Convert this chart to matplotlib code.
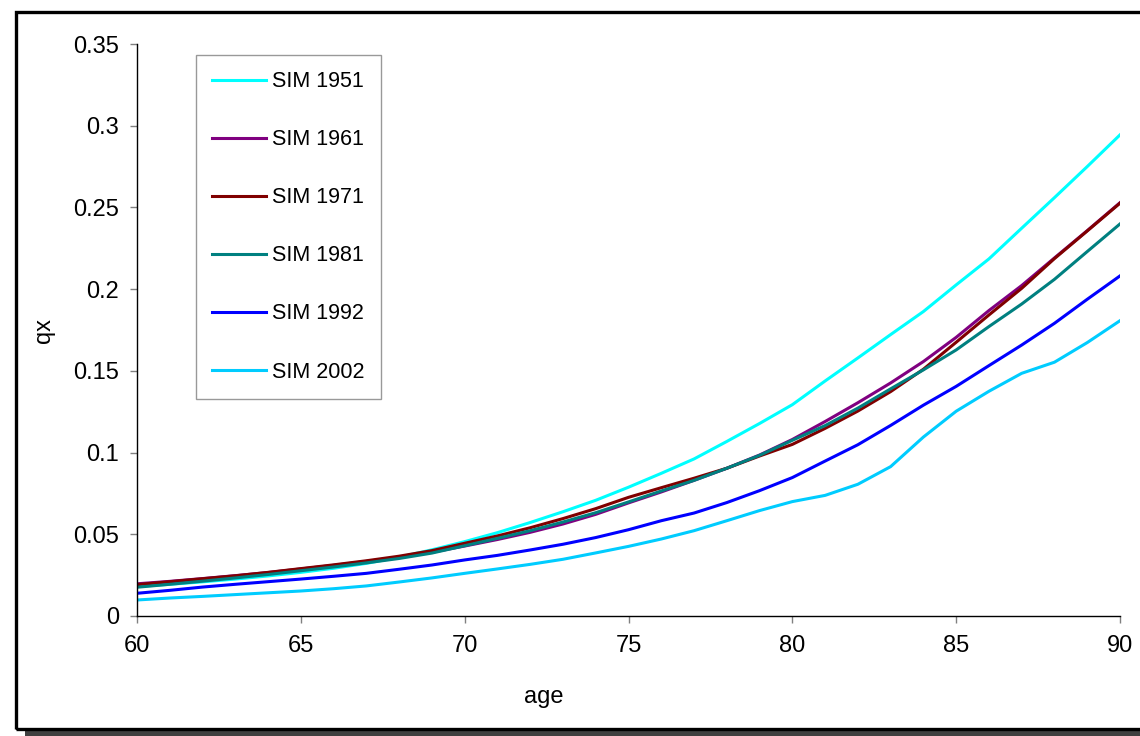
import matplotlib
matplotlib.use('Agg')
import matplotlib.pyplot as plt
from matplotlib.patches import Rectangle

plt.rcParams['font.family'] = ['Liberation Sans', 'DejaVu Sans']

# Età e probabilità di morte qx per tavola.
ages = list(range(60, 91))

sim_1951 = [0.0180, 0.0194, 0.0209, 0.0226, 0.0245, 0.0267, 0.0292, 0.0322, 0.0360, 0.0405,
            0.0455, 0.0510, 0.0572, 0.0638, 0.0708, 0.0788, 0.0873, 0.0961, 0.1068, 0.1178,
            0.1293, 0.1438, 0.1579, 0.1722, 0.1863, 0.2026, 0.2185, 0.2373, 0.2560, 0.2750,
            0.2944]
sim_1961 = [0.0197, 0.0212, 0.0229, 0.0247, 0.0266, 0.0288, 0.0310, 0.0334, 0.0360, 0.0390,
            0.0428, 0.0468, 0.0512, 0.0563, 0.0622, 0.0692, 0.0759, 0.0830, 0.0904, 0.0985,
            0.1080, 0.1190, 0.1305, 0.1426, 0.1557, 0.1705, 0.1869, 0.2022, 0.2191, 0.2358,
            0.2529]
sim_1971 = [0.0192, 0.0210, 0.0228, 0.0246, 0.0267, 0.0290, 0.0313, 0.0338, 0.0366, 0.0400,
            0.0445, 0.0490, 0.0540, 0.0596, 0.0657, 0.0726, 0.0785, 0.0843, 0.0904, 0.0979,
            0.1050, 0.1148, 0.1254, 0.1373, 0.1510, 0.1675, 0.1842, 0.2005, 0.2187, 0.2356,
            0.2526]
sim_1981 = [0.0176, 0.0194, 0.0213, 0.0233, 0.0254, 0.0277, 0.0300, 0.0325, 0.0352, 0.0385,
            0.0430, 0.0475, 0.0522, 0.0575, 0.0632, 0.0698, 0.0765, 0.0830, 0.0904, 0.0983,
            0.1075, 0.1165, 0.1272, 0.1390, 0.1506, 0.1628, 0.1771, 0.1909, 0.2060, 0.2230,
            0.2399]
sim_1992 = [0.0139, 0.0157, 0.0177, 0.0194, 0.0210, 0.0226, 0.0243, 0.0261, 0.0286, 0.0312,
            0.0343, 0.0371, 0.0404, 0.0439, 0.0480, 0.0528, 0.0583, 0.0630, 0.0694, 0.0767,
            0.0847, 0.0948, 0.1048, 0.1166, 0.1290, 0.1405, 0.1532, 0.1658, 0.1791, 0.1938,
            0.2081]
sim_2002 = [0.0098, 0.0110, 0.0120, 0.0131, 0.0142, 0.0153, 0.0167, 0.0184, 0.0208, 0.0233,
            0.0261, 0.0288, 0.0316, 0.0347, 0.0386, 0.0426, 0.0471, 0.0522, 0.0583, 0.0645,
            0.0700, 0.0738, 0.0806, 0.0914, 0.1095, 0.1253, 0.1375, 0.1485, 0.1553, 0.1673,
            0.1807]

labels = ['SIM 1951', 'SIM 1961', 'SIM 1971', 'SIM 1981', 'SIM 1992', 'SIM 2002']
colors = ['#00FFFF', '#800080', '#800000', '#008080', '#0000FF', '#00CCFF']
x_ticks = [60, 65, 70, 75, 80, 85, 90]
y_ticks = [0, 0.05, 0.1, 0.15, 0.2, 0.25, 0.3, 0.35]
y_tick_labels = ['0', '0.05', '0.1', '0.15', '0.2', '0.25', '0.3', '0.35']

fig = plt.figure(figsize=(11.4, 7.36), dpi=100)
ax = fig.add_axes([137 / 1140, 1 - 616 / 736, 983 / 1140, 572 / 736])

series = [sim_1951, sim_1961, sim_1971, sim_1981, sim_1992, sim_2002]
for values, label, color in zip(series, labels, colors):
    ax.plot(ages, values, color=color, linewidth=2.2, label=label)

ax.set_xlim(60, 90)
ax.set_ylim(0, 0.35)
ax.set_xticks(x_ticks)
ax.set_yticks(y_ticks)
ax.set_yticklabels(y_tick_labels)
ax.tick_params(labelsize=17, length=5, width=1, color='#808080')
ax.tick_params(axis='x', pad=9)
ax.tick_params(axis='y', pad=8)

for side in ['top', 'right']:
    ax.spines[side].set_visible(False)
for side in ['left', 'bottom']:
    ax.spines[side].set_linewidth(1)
    ax.spines[side].set_color('black')

fig.text(43.5 / 1140, 1 - 330 / 736, 'qx', rotation=90, fontsize=17,
         ha='center', va='center')
fig.text(544 / 1140, 1 - 697 / 736, 'age', fontsize=17, ha='center', va='center')

leg = ax.legend(loc='upper left', bbox_to_anchor=(196 / 1140, 1 - 55 / 736),
                bbox_transform=fig.transFigure, fontsize=15.5, frameon=True,
                fancybox=False, handlelength=2.5, handletextpad=0.28,
                labelspacing=1.72, borderpad=0.76, borderaxespad=0)
leg.get_frame().set_edgecolor('#808080')
leg.get_frame().set_linewidth(1)

# Cornice della figura con ombra in basso.
fig.patches.append(Rectangle((25 / 1140, 0), 1.1, 6 / 736, transform=fig.transFigure,
                             facecolor='#404040', edgecolor='none', zorder=0))
fig.patches.append(Rectangle((15.5 / 1140, 1 - 728.5 / 736), 1.1, 717 / 736,
                             transform=fig.transFigure, facecolor='none',
                             edgecolor='black', linewidth=2.4, zorder=1))

fig.savefig('out.png', dpi=100)
